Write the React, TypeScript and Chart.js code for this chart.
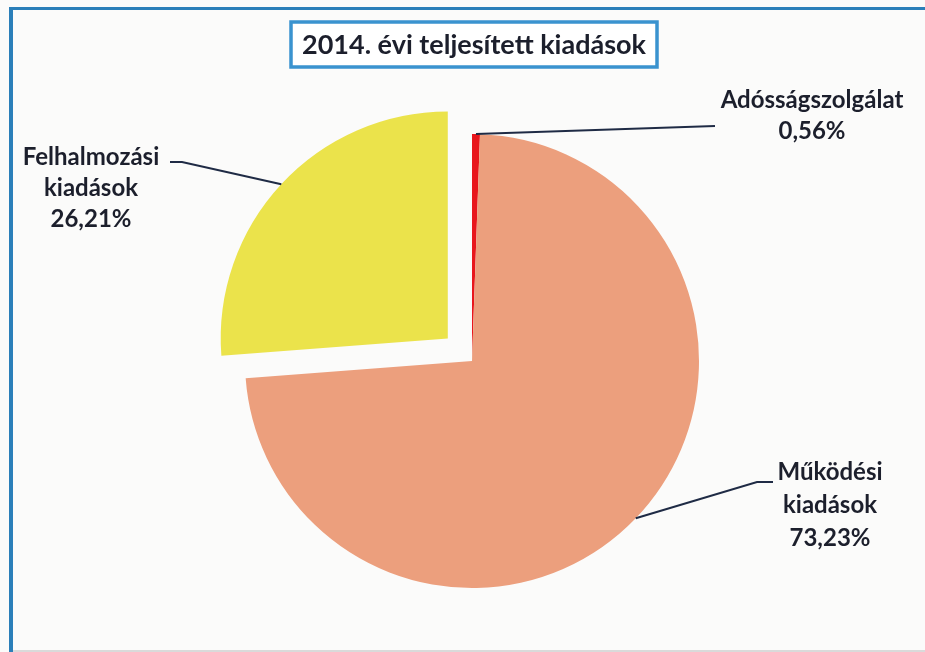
import React, { useEffect, useRef } from "react";
import { Chart, registerables } from "chart.js";

Chart.register(...registerables);

const TITLE = "2014. évi teljesített kiadások";
const categories = ["Adósságszolgálat", "Működési kiadások", "Felhalmozási kiadások"];
const labelLines = [["Adósságszolgálat"], ["Működési", "kiadások"], ["Felhalmozási", "kiadások"]];
const shares = [0.56, 73.23, 26.21];
const sliceColors = ["#E8161C", "#EC9F7D", "#EBE34B"];
const sliceOffsets = [0, 0, 132];

const fmtPct = (v: number) => v.toFixed(2).replace(".", ",") + "%";

// label placement (text anchors and leader-line bends), not data
const LABEL_LAYOUT = [
  { path: [[715, 126]], cx: 812, ys: [100, 131] },
  { path: [[757, 482], [773, 482]], cx: 830, ys: [472, 505, 538] },
  { path: [[182, 162], [170, 162]], cx: 91, ys: [157, 188, 219] },
];

const TEXT_COLOR = "#1C1F2C";
const LABEL_FONT = "bold 24px Lato, 'Noto Sans', sans-serif";
const TITLE_FONT = "bold 27px Lato, 'Noto Sans', sans-serif";

const framePlugin = {
  id: "frame",
  beforeDraw(chart: any) {
    const ctx = chart.ctx as CanvasRenderingContext2D;
    const w = chart.width;
    const h = chart.height;
    ctx.save();
    ctx.fillStyle = "#FBFBFA";
    ctx.fillRect(0, 0, w, h);
    // outer frame (left and top edges of the scanned box)
    ctx.fillStyle = "#2B7FB9";
    ctx.fillRect(9, 7, 4, h - 7);
    ctx.fillRect(9, 7, w - 9, 3);
    ctx.fillStyle = "#DADADA";
    ctx.fillRect(13, h - 2, w - 13, 2);
    // title box
    ctx.fillStyle = "#FFFFFF";
    ctx.fillRect(291, 22, 366, 45);
    ctx.strokeStyle = "#3A93CF";
    ctx.lineWidth = 3.5;
    ctx.strokeRect(291, 22, 366, 45);
    ctx.fillStyle = TEXT_COLOR;
    ctx.font = TITLE_FONT;
    ctx.textAlign = "center";
    ctx.textBaseline = "middle";
    ctx.fillText(TITLE, 474, 45);
    ctx.restore();
  },
};

const labelPlugin = {
  id: "pieLabels",
  afterDatasetsDraw(chart: any) {
    const ctx = chart.ctx as CanvasRenderingContext2D;
    const meta = chart.getDatasetMeta(0);
    ctx.save();
    meta.data.forEach((arc: any, i: number) => {
      const p = arc.getProps(["x", "y", "startAngle", "endAngle", "outerRadius"], true);
      const mid = (p.startAngle + p.endAngle) / 2;
      const shift = (sliceOffsets[i] || 0) / 4;
      const ax = p.x + Math.cos(mid) * (p.outerRadius + shift);
      const ay = p.y + Math.sin(mid) * (p.outerRadius + shift);
      const lay = LABEL_LAYOUT[i];
      ctx.strokeStyle = "#1F2B45";
      ctx.lineWidth = 2;
      ctx.beginPath();
      ctx.moveTo(ax, ay);
      lay.path.forEach(([x, y]) => ctx.lineTo(x, y));
      ctx.stroke();
      const lines = [...labelLines[i], fmtPct(shares[i])];
      ctx.fillStyle = TEXT_COLOR;
      ctx.font = LABEL_FONT;
      ctx.textAlign = "center";
      ctx.textBaseline = "middle";
      lines.forEach((t, k) => ctx.fillText(t, lay.cx, lay.ys[k]));
    });
    ctx.restore();
  },
};

export default function App() {
  const ref = useRef<HTMLCanvasElement | null>(null);
  useEffect(() => {
    if (!ref.current) return;
    const chart = new Chart(ref.current, {
      type: "pie",
      data: {
        labels: categories,
        datasets: [
          {
            data: shares,
            backgroundColor: sliceColors,
            offset: sliceOffsets,
            borderWidth: 0,
            hoverOffset: 0,
          },
        ],
      },
      options: {
        responsive: false,
        animation: false,
        radius: 227,
        layout: { padding: { left: 19, right: 0, top: 70, bottom: 0 } },
        plugins: {
          legend: { display: false },
          tooltip: { enabled: false },
          title: { display: false },
        },
      } as any,
      plugins: [framePlugin, labelPlugin],
    });
    return () => chart.destroy();
  }, []);
  return (
    <div style={{ position: "absolute", left: 0, top: 0, width: 925, height: 652 }}>
      <canvas ref={ref} width={925} height={652} style={{ width: 925, height: 652, display: "block" }} />
    </div>
  );
}
